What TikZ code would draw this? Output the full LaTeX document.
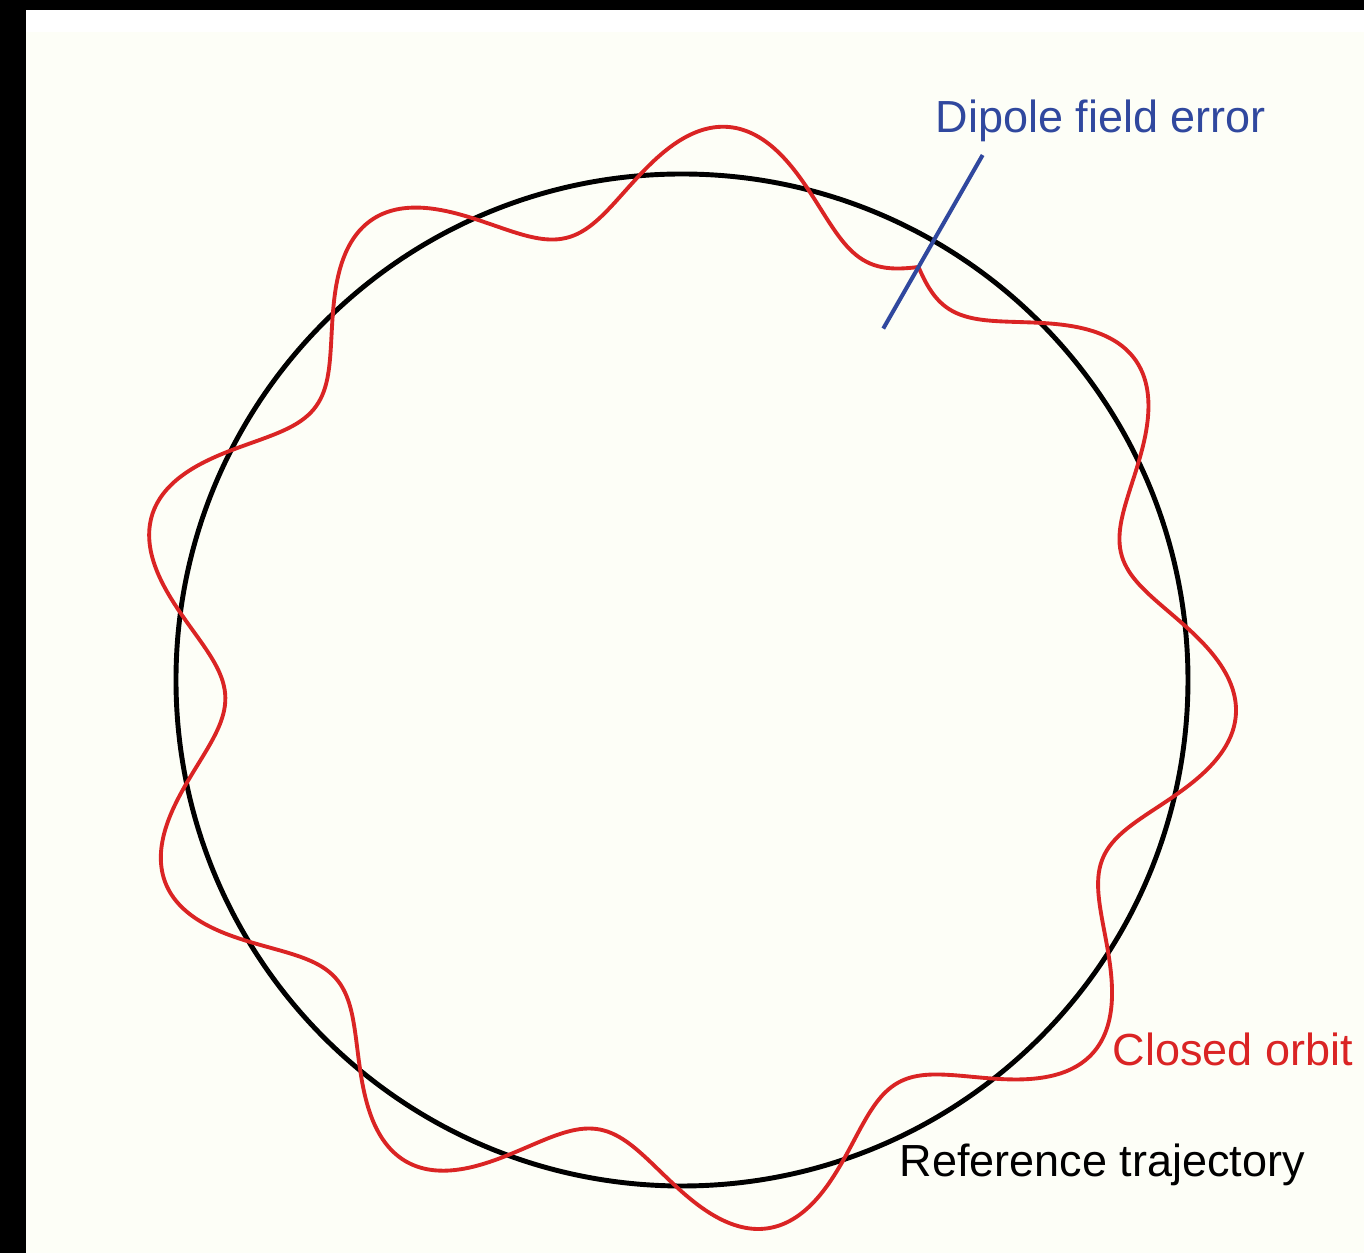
\documentclass[tikz,border=0pt]{standalone}
\usepackage{fontspec}
\setmainfont{Liberation Sans}
\usepackage{tikz}
\usetikzlibrary{positioning}
\definecolor{orbitred}{RGB}{218,36,36}
\definecolor{errblue}{RGB}{48,72,158}
\definecolor{paper}{RGB}{253,254,247}
\tikzset{
  txt/.style={inner sep=0pt, anchor=base west, font=\fontsize{12.8}{15}\selectfont},
  reftraj/.style={line width=1.4pt, black},
  orbit/.style={line width=1.1pt, orbitred, line join=round},
  kick/.style={line width=1.15pt, errblue},
}
\begin{document}
\begin{tikzpicture}
  % frame and paper
  \useasboundingbox (-6.82,-5.73) rectangle (6.82,6.80);
  \fill[black] (-6.82,-5.73) rectangle (6.82,6.80);
  \fill[white] (-6.56,-5.73) rectangle (6.82,6.70);
  \fill[paper] (-6.56,-5.73) rectangle (6.82,6.48);

  \coordinate (c) at (0,0);
  \draw[reftraj] (c) circle (5.06);
  % closed orbit, kick at 60.2 deg, Q = 9.29
  \draw[orbit] plot[domain=0:360, samples=721, smooth]
    ({60.2+\x}:{5.06+0.49*cos(9.29*(\x-180))}) -- cycle;
  \coordinate (kin) at (60.2:4.05);
  \coordinate (kout) at (60.2:6.05);
  \draw[kick] (kin) -- (kout);

  \node[txt, text=errblue] (dip) at (2.53,5.47) {Dipole field error};
  \node[txt, text=orbitred] (co) at (4.30,-3.86) {Closed orbit};
  \node[txt] (rt) at (2.17,-4.97) {Reference trajectory};
\end{tikzpicture}
\end{document}
